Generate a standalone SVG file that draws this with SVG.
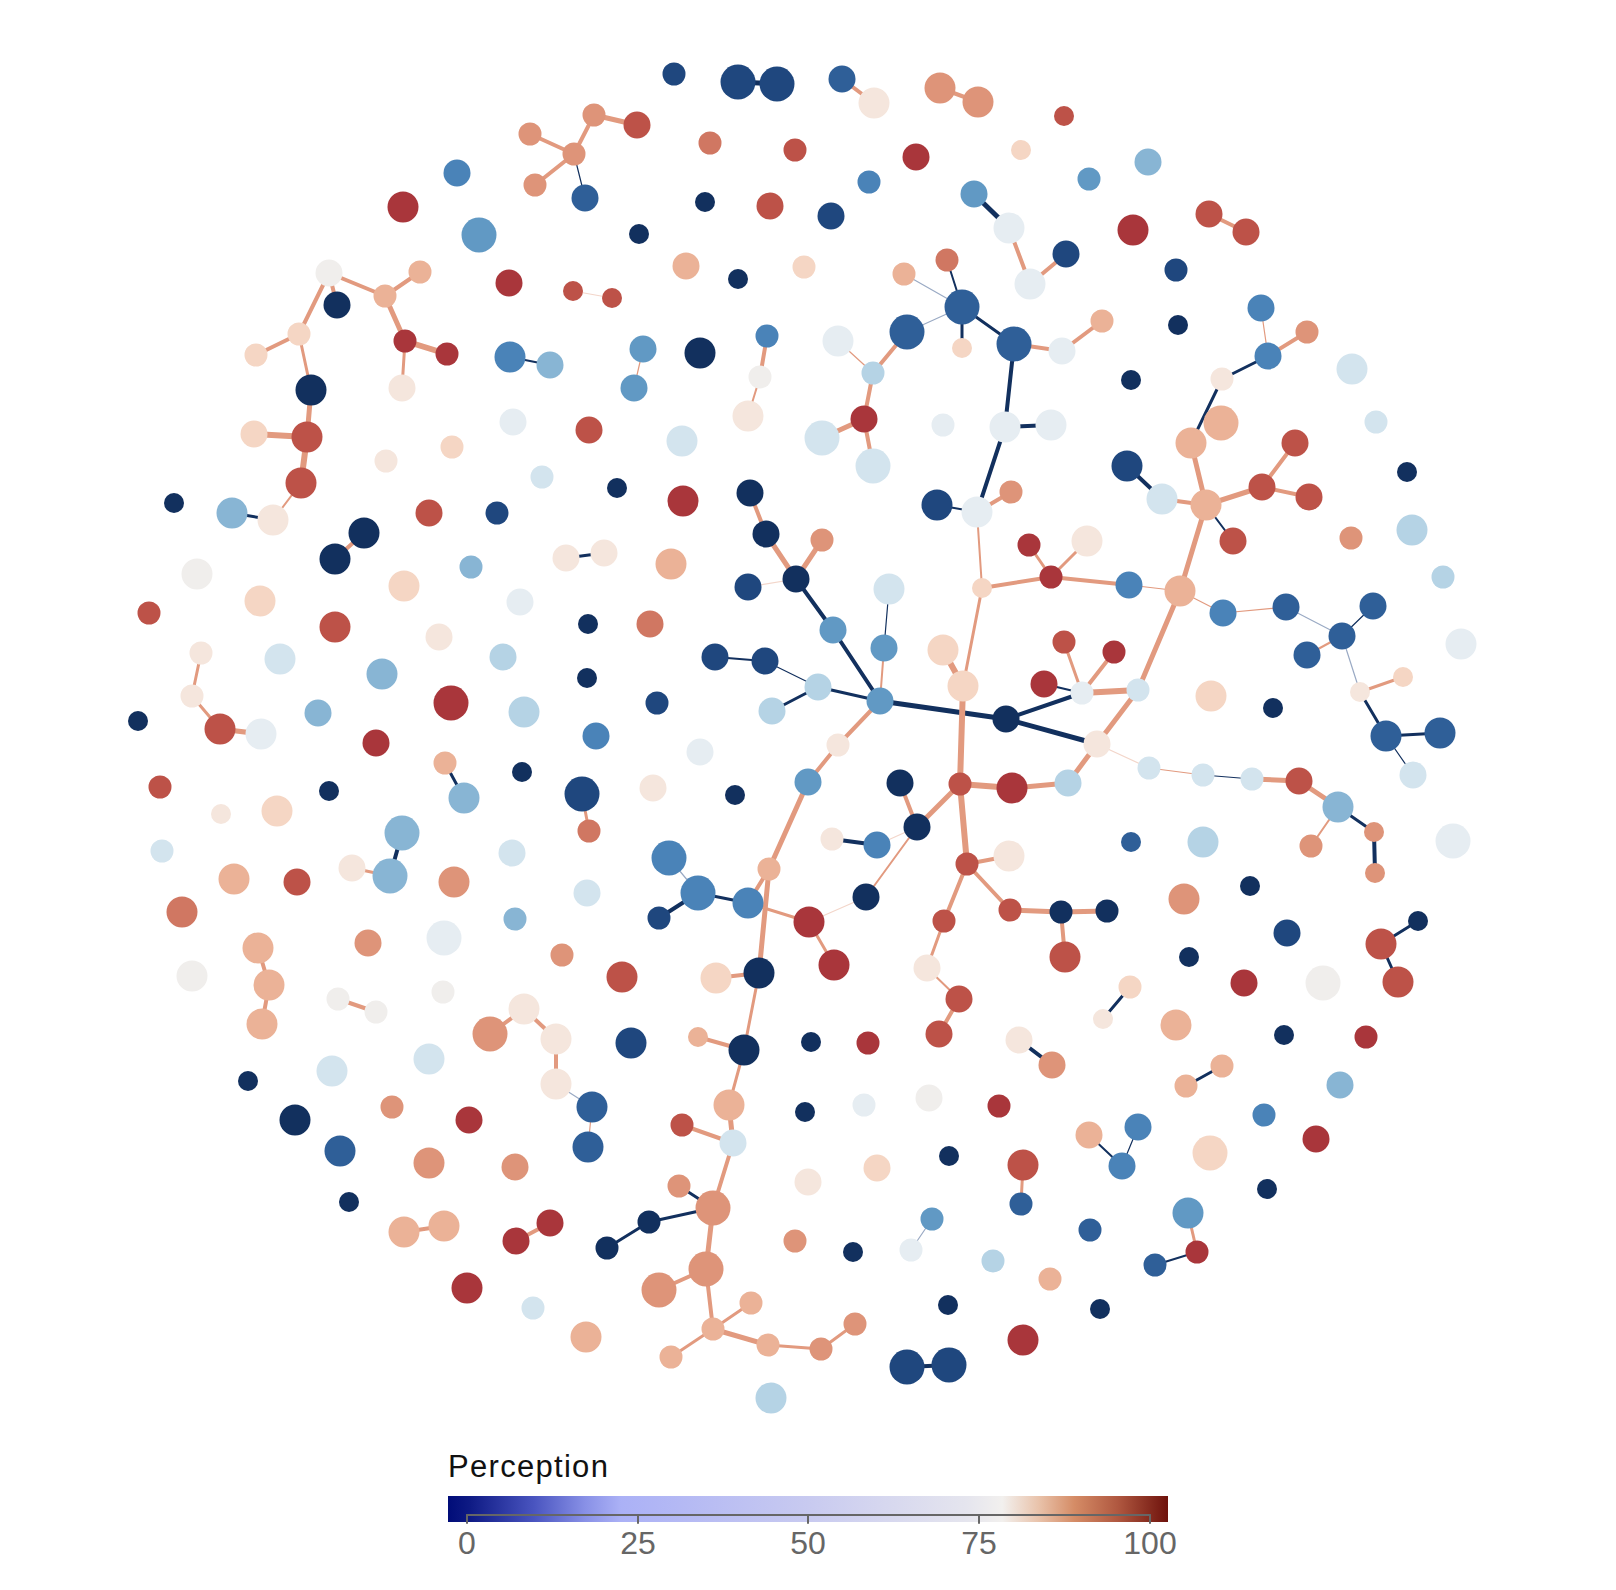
<svg xmlns="http://www.w3.org/2000/svg" width="1616" height="1590" viewBox="0 0 1616 1590">
<style>
.k0{fill:#12305e}.k1{fill:#1f477e}.k2{fill:#2f5f98}.k3{fill:#4a83b8}.k4{fill:#6199c4}.k5{fill:#88b5d4}.k6{fill:#b5d3e5}.k7{fill:#d3e4ee}.k8{fill:#e6edf2}.k9{fill:#f0eeec}.k10{fill:#f5e6dd}.k11{fill:#f5d6c4}.k12{fill:#ebb297}.k13{fill:#de9479}.k14{fill:#d07762}.k15{fill:#bd5248}.k16{fill:#a9363b}
line{stroke-linecap:round}
.s{stroke:#e29a7f}.n{stroke:#12305e}.g{stroke:#9aaac4}.f{stroke:#f3d6ca}
.w1{stroke-width:1.2}.w2{stroke-width:2}.w3{stroke-width:3}.w4{stroke-width:4}.w5{stroke-width:5}.w6{stroke-width:6}
.lab{font-family:"Liberation Sans",Arial,sans-serif;font-size:32px;fill:#666;text-anchor:middle}
.ttl{font-family:"Liberation Sans",Arial,sans-serif;font-size:31px;fill:#111;letter-spacing:1.3px}
</style>
<defs>
<linearGradient id="grad" x1="0" y1="0" x2="1" y2="0">
<stop offset="0" stop-color="#000c78"/>
<stop offset="0.03" stop-color="#0e1a84"/>
<stop offset="0.12" stop-color="#4a55c0"/>
<stop offset="0.19" stop-color="#8890e6"/>
<stop offset="0.24" stop-color="#abb1f6"/>
<stop offset="0.5" stop-color="#c8caf0"/>
<stop offset="0.72" stop-color="#e5e5ee"/>
<stop offset="0.77" stop-color="#f2f0ee"/>
<stop offset="0.82" stop-color="#e9c3ab"/>
<stop offset="0.87" stop-color="#d58c66"/>
<stop offset="0.93" stop-color="#b05840"/>
<stop offset="1" stop-color="#6e120c"/>
</linearGradient>
</defs>
<rect width="1616" height="1590" fill="#fff"/>
<g id="connectors">
<line class="s w4" x1="530" y1="134" x2="574" y2="154"/>
<line class="s w4" x1="535" y1="185" x2="574" y2="154"/>
<line class="n w1" x1="574" y1="154" x2="585" y2="198"/>
<line class="s w4" x1="574" y1="154" x2="594" y2="115"/>
<line class="s w5" x1="594" y1="115" x2="637" y2="125"/>
<line class="s w4" x1="329" y1="273" x2="385" y2="296"/>
<line class="s w4" x1="385" y1="296" x2="420" y2="272"/>
<line class="s w5" x1="385" y1="296" x2="405" y2="341"/>
<line class="s w6" x1="405" y1="341" x2="447" y2="354"/>
<line class="s w3" x1="405" y1="341" x2="402" y2="388"/>
<line class="s w4" x1="329" y1="273" x2="337" y2="305"/>
<line class="s w4" x1="329" y1="273" x2="299" y2="334"/>
<line class="s w4" x1="299" y1="334" x2="256" y2="355"/>
<line class="s w3" x1="299" y1="334" x2="311" y2="390"/>
<line class="s w5" x1="311" y1="390" x2="307" y2="437"/>
<line class="s w6" x1="254" y1="434" x2="307" y2="437"/>
<line class="s w6" x1="307" y1="437" x2="301" y2="483"/>
<line class="s w2" x1="301" y1="483" x2="273" y2="520"/>
<line class="n w3" x1="232" y1="513" x2="273" y2="520"/>
<line class="n w2" x1="510" y1="357" x2="550" y2="365"/>
<line class="f w1" x1="573" y1="291" x2="612" y2="298"/>
<line class="n w5" x1="738" y1="82" x2="777" y2="84"/>
<line class="s w4" x1="842" y1="79" x2="874" y2="103"/>
<line class="s w4" x1="940" y1="88" x2="978" y2="102"/>
<line class="n w5" x1="974" y1="194" x2="1009" y2="228"/>
<line class="s w4" x1="1009" y1="228" x2="1030" y2="284"/>
<line class="s w4" x1="1030" y1="284" x2="1066" y2="254"/>
<line class="n w2" x1="962" y1="307" x2="947" y2="260"/>
<line class="g w1" x1="962" y1="307" x2="904" y2="274"/>
<line class="n w3" x1="962" y1="307" x2="962" y2="348"/>
<line class="n w3" x1="962" y1="307" x2="1014" y2="344"/>
<line class="g w1" x1="907" y1="332" x2="962" y2="307"/>
<line class="s w4" x1="1014" y1="344" x2="1062" y2="351"/>
<line class="s w4" x1="1062" y1="351" x2="1102" y2="321"/>
<line class="n w4" x1="1014" y1="344" x2="1005" y2="427"/>
<line class="n w4" x1="1005" y1="427" x2="1051" y2="425"/>
<line class="n w4" x1="1005" y1="427" x2="977" y2="512"/>
<line class="n w2" x1="937" y1="505" x2="977" y2="512"/>
<line class="s w4" x1="977" y1="512" x2="1011" y2="492"/>
<line class="s w1" x1="643" y1="349" x2="634" y2="388"/>
<line class="s w4" x1="767" y1="336" x2="760" y2="377"/>
<line class="s w2" x1="760" y1="377" x2="748" y2="416"/>
<line class="s w1" x1="838" y1="341" x2="873" y2="373"/>
<line class="s w4" x1="873" y1="373" x2="907" y2="332"/>
<line class="s w4" x1="873" y1="373" x2="864" y2="419"/>
<line class="s w5" x1="864" y1="419" x2="822" y2="438"/>
<line class="s w4" x1="864" y1="419" x2="873" y2="466"/>
<line class="s w4" x1="750" y1="493" x2="766" y2="534"/>
<line class="s w4" x1="1209" y1="214" x2="1246" y2="232"/>
<line class="s w1" x1="1261" y1="308" x2="1268" y2="356"/>
<line class="s w4" x1="1307" y1="332" x2="1268" y2="356"/>
<line class="n w3" x1="1268" y1="356" x2="1222" y2="379"/>
<line class="n w3" x1="1222" y1="379" x2="1191" y2="443"/>
<line class="n w4" x1="1127" y1="466" x2="1162" y2="499"/>
<line class="s w4" x1="1162" y1="499" x2="1206" y2="505"/>
<line class="s w5" x1="1191" y1="443" x2="1206" y2="505"/>
<line class="s w5" x1="1206" y1="505" x2="1262" y2="487"/>
<line class="s w4" x1="1262" y1="487" x2="1295" y2="443"/>
<line class="s w4" x1="1262" y1="487" x2="1309" y2="497"/>
<line class="n w2" x1="1206" y1="505" x2="1233" y2="541"/>
<line class="s w4" x1="364" y1="533" x2="335" y2="559"/>
<line class="n w3" x1="566" y1="558" x2="604" y2="553"/>
<line class="s w3" x1="201" y1="653" x2="192" y2="696"/>
<line class="s w3" x1="192" y1="696" x2="220" y2="729"/>
<line class="s w5" x1="220" y1="729" x2="261" y2="734"/>
<line class="n w3" x1="445" y1="763" x2="464" y2="798"/>
<line class="n w4" x1="402" y1="833" x2="390" y2="876"/>
<line class="s w3" x1="352" y1="868" x2="390" y2="876"/>
<line class="s w3" x1="582" y1="794" x2="589" y2="831"/>
<line class="s w4" x1="258" y1="948" x2="269" y2="985"/>
<line class="s w5" x1="766" y1="534" x2="796" y2="579"/>
<line class="s w5" x1="796" y1="579" x2="822" y2="540"/>
<line class="f w1" x1="748" y1="587" x2="796" y2="579"/>
<line class="n w4" x1="796" y1="579" x2="833" y2="630"/>
<line class="n w4" x1="833" y1="630" x2="880" y2="701"/>
<line class="n w2" x1="715" y1="657" x2="765" y2="661"/>
<line class="n w1" x1="765" y1="661" x2="818" y2="687"/>
<line class="n w3" x1="818" y1="687" x2="772" y2="711"/>
<line class="n w3" x1="818" y1="687" x2="880" y2="701"/>
<line class="n w1" x1="889" y1="589" x2="884" y2="648"/>
<line class="s w2" x1="884" y1="648" x2="880" y2="701"/>
<line class="n w5" x1="880" y1="701" x2="1006" y2="719"/>
<line class="s w4" x1="880" y1="701" x2="838" y2="745"/>
<line class="s w4" x1="838" y1="745" x2="808" y2="782"/>
<line class="s w5" x1="808" y1="782" x2="769" y2="869"/>
<line class="s w2" x1="977" y1="512" x2="982" y2="588"/>
<line class="s w3" x1="1029" y1="545" x2="1051" y2="577"/>
<line class="s w4" x1="982" y1="588" x2="1051" y2="577"/>
<line class="s w6" x1="943" y1="650" x2="963" y2="686"/>
<line class="s w3" x1="982" y1="588" x2="963" y2="686"/>
<line class="n w2" x1="1044" y1="684" x2="1082" y2="693"/>
<line class="s w6" x1="963" y1="686" x2="960" y2="784"/>
<line class="s w6" x1="960" y1="784" x2="1012" y2="788"/>
<line class="s w5" x1="1012" y1="788" x2="1068" y2="783"/>
<line class="s w4" x1="900" y1="783" x2="917" y2="827"/>
<line class="s w5" x1="917" y1="827" x2="960" y2="784"/>
<line class="n w4" x1="832" y1="839" x2="877" y2="845"/>
<line class="f w1" x1="877" y1="845" x2="917" y2="827"/>
<line class="s w2" x1="866" y1="897" x2="917" y2="827"/>
<line class="s w6" x1="960" y1="784" x2="967" y2="864"/>
<line class="s w4" x1="967" y1="864" x2="1009" y2="856"/>
<line class="s w4" x1="967" y1="864" x2="1010" y2="910"/>
<line class="s w5" x1="1010" y1="910" x2="1061" y2="912"/>
<line class="s w4" x1="967" y1="864" x2="944" y2="921"/>
<line class="s w3" x1="944" y1="921" x2="927" y2="968"/>
<line class="g w1" x1="669" y1="858" x2="698" y2="893"/>
<line class="n w4" x1="698" y1="893" x2="659" y2="918"/>
<line class="n w3" x1="698" y1="893" x2="748" y2="903"/>
<line class="s w4" x1="769" y1="869" x2="748" y2="903"/>
<line class="s w5" x1="769" y1="869" x2="759" y2="973"/>
<line class="s w3" x1="748" y1="903" x2="809" y2="922"/>
<line class="s w3" x1="809" y1="922" x2="834" y2="965"/>
<line class="f w1" x1="809" y1="922" x2="866" y2="897"/>
<line class="s w4" x1="716" y1="978" x2="759" y2="973"/>
<line class="s w3" x1="1087" y1="541" x2="1051" y2="577"/>
<line class="s w4" x1="1051" y1="577" x2="1129" y2="585"/>
<line class="s w1" x1="1129" y1="585" x2="1180" y2="591"/>
<line class="s w5" x1="1206" y1="505" x2="1180" y2="591"/>
<line class="s w1" x1="1180" y1="591" x2="1223" y2="613"/>
<line class="s w1" x1="1223" y1="613" x2="1286" y2="607"/>
<line class="g w1" x1="1286" y1="607" x2="1342" y2="636"/>
<line class="n w1" x1="1342" y1="636" x2="1373" y2="606"/>
<line class="s w2" x1="1342" y1="636" x2="1307" y2="655"/>
<line class="g w1" x1="1342" y1="636" x2="1360" y2="692"/>
<line class="s w3" x1="1360" y1="692" x2="1403" y2="677"/>
<line class="n w3" x1="1360" y1="692" x2="1386" y2="736"/>
<line class="n w3" x1="1386" y1="736" x2="1440" y2="733"/>
<line class="n w1" x1="1386" y1="736" x2="1413" y2="775"/>
<line class="s w3" x1="1064" y1="642" x2="1082" y2="693"/>
<line class="s w4" x1="1114" y1="652" x2="1082" y2="693"/>
<line class="s w6" x1="1082" y1="693" x2="1138" y2="690"/>
<line class="s w5" x1="1138" y1="690" x2="1180" y2="591"/>
<line class="n w4" x1="1006" y1="719" x2="1082" y2="693"/>
<line class="n w5" x1="1006" y1="719" x2="1097" y2="744"/>
<line class="s w5" x1="1097" y1="744" x2="1138" y2="690"/>
<line class="s w5" x1="1097" y1="744" x2="1068" y2="783"/>
<line class="f w1" x1="1097" y1="744" x2="1149" y2="768"/>
<line class="s w1" x1="1149" y1="768" x2="1203" y2="775"/>
<line class="n w1" x1="1203" y1="775" x2="1252" y2="779"/>
<line class="s w5" x1="1252" y1="779" x2="1299" y2="781"/>
<line class="s w5" x1="1299" y1="781" x2="1338" y2="807"/>
<line class="n w3" x1="1338" y1="807" x2="1374" y2="832"/>
<line class="n w4" x1="1374" y1="832" x2="1375" y2="873"/>
<line class="s w2" x1="1338" y1="807" x2="1311" y2="846"/>
<line class="s w5" x1="1061" y1="912" x2="1107" y2="911"/>
<line class="s w4" x1="1061" y1="912" x2="1065" y2="957"/>
<line class="n w3" x1="1418" y1="921" x2="1381" y2="944"/>
<line class="n w3" x1="1381" y1="944" x2="1398" y2="982"/>
<line class="s w4" x1="269" y1="985" x2="262" y2="1024"/>
<line class="s w4" x1="338" y1="999" x2="376" y2="1012"/>
<line class="s w4" x1="524" y1="1009" x2="490" y2="1034"/>
<line class="s w4" x1="524" y1="1009" x2="556" y2="1039"/>
<line class="s w4" x1="556" y1="1039" x2="556" y2="1084"/>
<line class="g w1" x1="556" y1="1084" x2="592" y2="1107"/>
<line class="s w1" x1="592" y1="1107" x2="588" y2="1147"/>
<line class="s w4" x1="404" y1="1232" x2="444" y2="1226"/>
<line class="s w4" x1="516" y1="1241" x2="550" y2="1223"/>
<line class="s w2" x1="927" y1="968" x2="959" y2="999"/>
<line class="s w4" x1="959" y1="999" x2="939" y2="1034"/>
<line class="n w4" x1="1019" y1="1040" x2="1052" y2="1065"/>
<line class="s w4" x1="698" y1="1037" x2="744" y2="1050"/>
<line class="s w3" x1="759" y1="973" x2="744" y2="1050"/>
<line class="s w3" x1="744" y1="1050" x2="729" y2="1105"/>
<line class="s w5" x1="729" y1="1105" x2="733" y2="1143"/>
<line class="s w4" x1="682" y1="1125" x2="733" y2="1143"/>
<line class="s w4" x1="733" y1="1143" x2="713" y2="1208"/>
<line class="n w3" x1="679" y1="1186" x2="713" y2="1208"/>
<line class="n w3" x1="713" y1="1208" x2="649" y2="1222"/>
<line class="n w3" x1="649" y1="1222" x2="607" y2="1248"/>
<line class="s w5" x1="713" y1="1208" x2="706" y2="1269"/>
<line class="s w4" x1="706" y1="1269" x2="659" y2="1290"/>
<line class="s w4" x1="706" y1="1269" x2="713" y2="1329"/>
<line class="s w3" x1="713" y1="1329" x2="751" y2="1303"/>
<line class="s w3" x1="713" y1="1329" x2="671" y2="1357"/>
<line class="s w5" x1="713" y1="1329" x2="768" y2="1345"/>
<line class="s w3" x1="768" y1="1345" x2="821" y2="1349"/>
<line class="s w3" x1="821" y1="1349" x2="855" y2="1324"/>
<line class="s w3" x1="1023" y1="1165" x2="1021" y2="1204"/>
<line class="g w1" x1="932" y1="1219" x2="911" y2="1250"/>
<line class="n w4" x1="907" y1="1367" x2="949" y2="1365"/>
<line class="n w3" x1="1130" y1="987" x2="1103" y2="1019"/>
<line class="n w3" x1="1186" y1="1086" x2="1222" y2="1066"/>
<line class="n w2" x1="1089" y1="1135" x2="1122" y2="1166"/>
<line class="n w1" x1="1138" y1="1127" x2="1122" y2="1166"/>
<line class="s w3" x1="1188" y1="1213" x2="1197" y2="1252"/>
<line class="n w2" x1="1197" y1="1252" x2="1155" y2="1265"/>
</g>
<g id="nodes">
<g id="n1"><circle class="k13" cx="530" cy="134" r="11.5"/></g>
<g id="n2"><circle class="k13" cx="574" cy="154" r="11.5"/></g>
<g id="n3"><circle class="k13" cx="535" cy="185" r="11.5"/></g>
<g id="n4"><circle class="k2" cx="585" cy="198" r="13.5"/></g>
<g id="n5"><circle class="k3" cx="457" cy="173" r="13.5"/></g>
<g id="n6"><circle class="k16" cx="403" cy="207" r="15.5"/></g>
<g id="n7"><circle class="k4" cx="479" cy="235" r="17.5"/></g>
<g id="n8"><circle class="k16" cx="509" cy="283" r="13.5"/></g>
<g id="n9"><circle class="k15" cx="573" cy="291" r="10"/></g>
<g id="n10"><circle class="k9" cx="329" cy="273" r="13.5"/></g>
<g id="n11"><circle class="k12" cx="385" cy="296" r="11.5"/></g>
<g id="n12"><circle class="k12" cx="420" cy="272" r="11.5"/></g>
<g id="n13"><circle class="k0" cx="337" cy="305" r="13.5"/></g>
<g id="n14"><circle class="k11" cx="299" cy="334" r="11.5"/></g>
<g id="n15"><circle class="k11" cx="256" cy="355" r="11.5"/></g>
<g id="n16"><circle class="k16" cx="405" cy="341" r="11.5"/></g>
<g id="n17"><circle class="k16" cx="447" cy="354" r="11.5"/></g>
<g id="n18"><circle class="k10" cx="402" cy="388" r="13.5"/></g>
<g id="n19"><circle class="k0" cx="311" cy="390" r="15.5"/></g>
<g id="n20"><circle class="k11" cx="254" cy="434" r="13.5"/></g>
<g id="n21"><circle class="k15" cx="307" cy="437" r="15.5"/></g>
<g id="n22"><circle class="k15" cx="301" cy="483" r="15.5"/></g>
<g id="n23"><circle class="k0" cx="174" cy="503" r="10"/></g>
<g id="n24"><circle class="k5" cx="232" cy="513" r="15.5"/></g>
<g id="n25"><circle class="k10" cx="273" cy="520" r="15.5"/></g>
<g id="n26"><circle class="k15" cx="429" cy="513" r="13.5"/></g>
<g id="n27"><circle class="k1" cx="497" cy="513" r="11.5"/></g>
<g id="n28"><circle class="k3" cx="510" cy="357" r="15.5"/></g>
<g id="n29"><circle class="k5" cx="550" cy="365" r="13.5"/></g>
<g id="n30"><circle class="k8" cx="513" cy="422" r="13.5"/></g>
<g id="n31"><circle class="k11" cx="452" cy="447" r="11.5"/></g>
<g id="n32"><circle class="k10" cx="386" cy="461" r="11.5"/></g>
<g id="n33"><circle class="k7" cx="542" cy="477" r="11.5"/></g>
<g id="n34"><circle class="k15" cx="589" cy="430" r="13.5"/></g>
<g id="n35"><circle class="k1" cx="674" cy="74" r="11.5"/></g>
<g id="n36"><circle class="k1" cx="738" cy="82" r="17.5"/></g>
<g id="n37"><circle class="k1" cx="777" cy="84" r="17.5"/></g>
<g id="n38"><circle class="k2" cx="842" cy="79" r="13.5"/></g>
<g id="n39"><circle class="k10" cx="874" cy="103" r="15.5"/></g>
<g id="n40"><circle class="k13" cx="940" cy="88" r="15.5"/></g>
<g id="n41"><circle class="k13" cx="978" cy="102" r="15.5"/></g>
<g id="n42"><circle class="k13" cx="594" cy="115" r="11.5"/></g>
<g id="n43"><circle class="k15" cx="637" cy="125" r="13.5"/></g>
<g id="n44"><circle class="k14" cx="710" cy="143" r="11.5"/></g>
<g id="n45"><circle class="k15" cx="795" cy="150" r="11.5"/></g>
<g id="n46"><circle class="k16" cx="916" cy="157" r="13.5"/></g>
<g id="n47"><circle class="k11" cx="1021" cy="150" r="10"/></g>
<g id="n48"><circle class="k0" cx="705" cy="202" r="10"/></g>
<g id="n49"><circle class="k15" cx="770" cy="206" r="13.5"/></g>
<g id="n50"><circle class="k3" cx="869" cy="182" r="11.5"/></g>
<g id="n51"><circle class="k1" cx="831" cy="216" r="13.5"/></g>
<g id="n52"><circle class="k4" cx="974" cy="194" r="13.5"/></g>
<g id="n53"><circle class="k8" cx="1009" cy="228" r="15.5"/></g>
<g id="n54"><circle class="k0" cx="639" cy="234" r="10"/></g>
<g id="n55"><circle class="k12" cx="686" cy="266" r="13.5"/></g>
<g id="n56"><circle class="k0" cx="738" cy="279" r="10"/></g>
<g id="n57"><circle class="k11" cx="804" cy="267" r="11.5"/></g>
<g id="n58"><circle class="k12" cx="904" cy="274" r="11.5"/></g>
<g id="n59"><circle class="k14" cx="947" cy="260" r="11.5"/></g>
<g id="n60"><circle class="k8" cx="1030" cy="284" r="15.5"/></g>
<g id="n61"><circle class="k2" cx="962" cy="307" r="17.5"/></g>
<g id="n62"><circle class="k11" cx="962" cy="348" r="10"/></g>
<g id="n63"><circle class="k2" cx="1014" cy="344" r="17.5"/></g>
<g id="n64"><circle class="k2" cx="907" cy="332" r="17.5"/></g>
<g id="n65"><circle class="k15" cx="612" cy="298" r="10"/></g>
<g id="n66"><circle class="k4" cx="643" cy="349" r="13.5"/></g>
<g id="n67"><circle class="k4" cx="634" cy="388" r="13.5"/></g>
<g id="n68"><circle class="k0" cx="700" cy="353" r="15.5"/></g>
<g id="n69"><circle class="k3" cx="767" cy="336" r="11.5"/></g>
<g id="n70"><circle class="k9" cx="760" cy="377" r="11.5"/></g>
<g id="n71"><circle class="k10" cx="748" cy="416" r="15.5"/></g>
<g id="n72"><circle class="k8" cx="838" cy="341" r="15.5"/></g>
<g id="n73"><circle class="k6" cx="873" cy="373" r="11.5"/></g>
<g id="n74"><circle class="k16" cx="864" cy="419" r="13.5"/></g>
<g id="n75"><circle class="k7" cx="822" cy="438" r="17.5"/></g>
<g id="n76"><circle class="k7" cx="873" cy="466" r="17.5"/></g>
<g id="n77"><circle class="k8" cx="943" cy="425" r="11.5"/></g>
<g id="n78"><circle class="k8" cx="1005" cy="427" r="15.5"/></g>
<g id="n79"><circle class="k8" cx="977" cy="512" r="15.5"/></g>
<g id="n80"><circle class="k1" cx="937" cy="505" r="15.5"/></g>
<g id="n81"><circle class="k13" cx="1011" cy="492" r="11.5"/></g>
<g id="n82"><circle class="k7" cx="682" cy="441" r="15.5"/></g>
<g id="n83"><circle class="k0" cx="617" cy="488" r="10"/></g>
<g id="n84"><circle class="k16" cx="683" cy="501" r="15.5"/></g>
<g id="n85"><circle class="k0" cx="750" cy="493" r="13.5"/></g>
<g id="n86"><circle class="k15" cx="1064" cy="116" r="10"/></g>
<g id="n87"><circle class="k4" cx="1089" cy="179" r="11.5"/></g>
<g id="n88"><circle class="k5" cx="1148" cy="162" r="13.5"/></g>
<g id="n89"><circle class="k16" cx="1133" cy="230" r="15.5"/></g>
<g id="n90"><circle class="k15" cx="1209" cy="214" r="13.5"/></g>
<g id="n91"><circle class="k15" cx="1246" cy="232" r="13.5"/></g>
<g id="n92"><circle class="k1" cx="1066" cy="254" r="13.5"/></g>
<g id="n93"><circle class="k1" cx="1176" cy="270" r="11.5"/></g>
<g id="n94"><circle class="k12" cx="1102" cy="321" r="11.5"/></g>
<g id="n95"><circle class="k8" cx="1062" cy="351" r="13.5"/></g>
<g id="n96"><circle class="k0" cx="1178" cy="325" r="10"/></g>
<g id="n97"><circle class="k3" cx="1261" cy="308" r="13.5"/></g>
<g id="n98"><circle class="k13" cx="1307" cy="332" r="11.5"/></g>
<g id="n99"><circle class="k3" cx="1268" cy="356" r="13.5"/></g>
<g id="n100"><circle class="k10" cx="1222" cy="379" r="11.5"/></g>
<g id="n101"><circle class="k12" cx="1191" cy="443" r="15.5"/></g>
<g id="n102"><circle class="k12" cx="1221" cy="423" r="17.5"/></g>
<g id="n103"><circle class="k7" cx="1352" cy="369" r="15.5"/></g>
<g id="n104"><circle class="k7" cx="1376" cy="422" r="11.5"/></g>
<g id="n105"><circle class="k0" cx="1131" cy="380" r="10"/></g>
<g id="n106"><circle class="k8" cx="1051" cy="425" r="15.5"/></g>
<g id="n107"><circle class="k0" cx="1407" cy="472" r="10"/></g>
<g id="n108"><circle class="k1" cx="1127" cy="466" r="15.5"/></g>
<g id="n109"><circle class="k7" cx="1162" cy="499" r="15.5"/></g>
<g id="n110"><circle class="k12" cx="1206" cy="505" r="15.5"/></g>
<g id="n111"><circle class="k15" cx="1262" cy="487" r="13.5"/></g>
<g id="n112"><circle class="k15" cx="1295" cy="443" r="13.5"/></g>
<g id="n113"><circle class="k15" cx="1309" cy="497" r="13.5"/></g>
<g id="n114"><circle class="k6" cx="1412" cy="530" r="15.5"/></g>
<g id="n115"><circle class="k0" cx="364" cy="533" r="15.5"/></g>
<g id="n116"><circle class="k0" cx="335" cy="559" r="15.5"/></g>
<g id="n117"><circle class="k10" cx="566" cy="558" r="13.5"/></g>
<g id="n118"><circle class="k9" cx="197" cy="574" r="15.5"/></g>
<g id="n119"><circle class="k11" cx="260" cy="601" r="15.5"/></g>
<g id="n120"><circle class="k15" cx="149" cy="613" r="11.5"/></g>
<g id="n121"><circle class="k15" cx="335" cy="627" r="15.5"/></g>
<g id="n122"><circle class="k11" cx="404" cy="586" r="15.5"/></g>
<g id="n123"><circle class="k5" cx="471" cy="567" r="11.5"/></g>
<g id="n124"><circle class="k8" cx="520" cy="602" r="13.5"/></g>
<g id="n125"><circle class="k10" cx="439" cy="637" r="13.5"/></g>
<g id="n126"><circle class="k10" cx="201" cy="653" r="11.5"/></g>
<g id="n127"><circle class="k7" cx="280" cy="659" r="15.5"/></g>
<g id="n128"><circle class="k5" cx="382" cy="674" r="15.5"/></g>
<g id="n129"><circle class="k6" cx="503" cy="657" r="13.5"/></g>
<g id="n130"><circle class="k10" cx="192" cy="696" r="11.5"/></g>
<g id="n131"><circle class="k0" cx="138" cy="721" r="10"/></g>
<g id="n132"><circle class="k15" cx="220" cy="729" r="15.5"/></g>
<g id="n133"><circle class="k8" cx="261" cy="734" r="15.5"/></g>
<g id="n134"><circle class="k5" cx="318" cy="713" r="13.5"/></g>
<g id="n135"><circle class="k16" cx="451" cy="703" r="17.5"/></g>
<g id="n136"><circle class="k6" cx="524" cy="712" r="15.5"/></g>
<g id="n137"><circle class="k16" cx="376" cy="743" r="13.5"/></g>
<g id="n138"><circle class="k12" cx="445" cy="763" r="11.5"/></g>
<g id="n139"><circle class="k5" cx="464" cy="798" r="15.5"/></g>
<g id="n140"><circle class="k15" cx="160" cy="787" r="11.5"/></g>
<g id="n141"><circle class="k0" cx="329" cy="791" r="10"/></g>
<g id="n142"><circle class="k0" cx="522" cy="772" r="10"/></g>
<g id="n143"><circle class="k1" cx="582" cy="794" r="17.5"/></g>
<g id="n144"><circle class="k14" cx="589" cy="831" r="11.5"/></g>
<g id="n145"><circle class="k10" cx="221" cy="814" r="10"/></g>
<g id="n146"><circle class="k11" cx="277" cy="811" r="15.5"/></g>
<g id="n147"><circle class="k7" cx="162" cy="851" r="11.5"/></g>
<g id="n148"><circle class="k5" cx="402" cy="833" r="17.5"/></g>
<g id="n149"><circle class="k5" cx="390" cy="876" r="17.5"/></g>
<g id="n150"><circle class="k10" cx="352" cy="868" r="13.5"/></g>
<g id="n151"><circle class="k7" cx="512" cy="853" r="13.5"/></g>
<g id="n152"><circle class="k13" cx="454" cy="882" r="15.5"/></g>
<g id="n153"><circle class="k12" cx="234" cy="879" r="15.5"/></g>
<g id="n154"><circle class="k15" cx="297" cy="882" r="13.5"/></g>
<g id="n155"><circle class="k14" cx="182" cy="912" r="15.5"/></g>
<g id="n156"><circle class="k7" cx="587" cy="893" r="13.5"/></g>
<g id="n157"><circle class="k12" cx="258" cy="948" r="15.5"/></g>
<g id="n158"><circle class="k13" cx="368" cy="943" r="13.5"/></g>
<g id="n159"><circle class="k8" cx="444" cy="938" r="17.5"/></g>
<g id="n160"><circle class="k5" cx="515" cy="919" r="11.5"/></g>
<g id="n161"><circle class="k13" cx="562" cy="955" r="11.5"/></g>
<g id="n162"><circle class="k0" cx="766" cy="534" r="13.5"/></g>
<g id="n163"><circle class="k0" cx="796" cy="579" r="13.5"/></g>
<g id="n164"><circle class="k13" cx="822" cy="540" r="11.5"/></g>
<g id="n165"><circle class="k1" cx="748" cy="587" r="13.5"/></g>
<g id="n166"><circle class="k10" cx="604" cy="553" r="13.5"/></g>
<g id="n167"><circle class="k12" cx="671" cy="564" r="15.5"/></g>
<g id="n168"><circle class="k14" cx="650" cy="624" r="13.5"/></g>
<g id="n169"><circle class="k0" cx="588" cy="624" r="10"/></g>
<g id="n170"><circle class="k0" cx="587" cy="678" r="10"/></g>
<g id="n171"><circle class="k1" cx="657" cy="703" r="11.5"/></g>
<g id="n172"><circle class="k3" cx="596" cy="736" r="13.5"/></g>
<g id="n173"><circle class="k8" cx="700" cy="752" r="13.5"/></g>
<g id="n174"><circle class="k1" cx="715" cy="657" r="13.5"/></g>
<g id="n175"><circle class="k1" cx="765" cy="661" r="13.5"/></g>
<g id="n176"><circle class="k6" cx="818" cy="687" r="13.5"/></g>
<g id="n177"><circle class="k6" cx="772" cy="711" r="13.5"/></g>
<g id="n178"><circle class="k4" cx="833" cy="630" r="13.5"/></g>
<g id="n179"><circle class="k4" cx="880" cy="701" r="13.5"/></g>
<g id="n180"><circle class="k7" cx="889" cy="589" r="15.5"/></g>
<g id="n181"><circle class="k4" cx="884" cy="648" r="13.5"/></g>
<g id="n182"><circle class="k0" cx="1006" cy="719" r="13.5"/></g>
<g id="n183"><circle class="k10" cx="838" cy="745" r="11.5"/></g>
<g id="n184"><circle class="k4" cx="808" cy="782" r="13.5"/></g>
<g id="n185"><circle class="k12" cx="769" cy="869" r="11.5"/></g>
<g id="n186"><circle class="k11" cx="982" cy="588" r="10"/></g>
<g id="n187"><circle class="k16" cx="1029" cy="545" r="11.5"/></g>
<g id="n188"><circle class="k16" cx="1051" cy="577" r="11.5"/></g>
<g id="n189"><circle class="k11" cx="943" cy="650" r="15.5"/></g>
<g id="n190"><circle class="k11" cx="963" cy="686" r="15.5"/></g>
<g id="n191"><circle class="k16" cx="1044" cy="684" r="13.5"/></g>
<g id="n192"><circle class="k8" cx="1082" cy="693" r="11.5"/></g>
<g id="n193"><circle class="k15" cx="960" cy="784" r="11.5"/></g>
<g id="n194"><circle class="k16" cx="1012" cy="788" r="15.5"/></g>
<g id="n195"><circle class="k6" cx="1068" cy="783" r="13.5"/></g>
<g id="n196"><circle class="k0" cx="900" cy="783" r="13.5"/></g>
<g id="n197"><circle class="k0" cx="917" cy="827" r="13.5"/></g>
<g id="n198"><circle class="k10" cx="832" cy="839" r="11.5"/></g>
<g id="n199"><circle class="k3" cx="877" cy="845" r="13.5"/></g>
<g id="n200"><circle class="k0" cx="866" cy="897" r="13.5"/></g>
<g id="n201"><circle class="k15" cx="967" cy="864" r="11.5"/></g>
<g id="n202"><circle class="k10" cx="1009" cy="856" r="15.5"/></g>
<g id="n203"><circle class="k15" cx="1010" cy="910" r="11.5"/></g>
<g id="n204"><circle class="k15" cx="944" cy="921" r="11.5"/></g>
<g id="n205"><circle class="k10" cx="927" cy="968" r="13.5"/></g>
<g id="n206"><circle class="k3" cx="669" cy="858" r="17.5"/></g>
<g id="n207"><circle class="k3" cx="698" cy="893" r="17.5"/></g>
<g id="n208"><circle class="k1" cx="659" cy="918" r="11.5"/></g>
<g id="n209"><circle class="k3" cx="748" cy="903" r="15.5"/></g>
<g id="n210"><circle class="k0" cx="759" cy="973" r="15.5"/></g>
<g id="n211"><circle class="k16" cx="809" cy="922" r="15.5"/></g>
<g id="n212"><circle class="k16" cx="834" cy="965" r="15.5"/></g>
<g id="n213"><circle class="k15" cx="622" cy="977" r="15.5"/></g>
<g id="n214"><circle class="k11" cx="716" cy="978" r="15.5"/></g>
<g id="n215"><circle class="k10" cx="653" cy="788" r="13.5"/></g>
<g id="n216"><circle class="k0" cx="735" cy="795" r="10"/></g>
<g id="n217"><circle class="k15" cx="1233" cy="541" r="13.5"/></g>
<g id="n218"><circle class="k10" cx="1087" cy="541" r="15.5"/></g>
<g id="n219"><circle class="k3" cx="1129" cy="585" r="13.5"/></g>
<g id="n220"><circle class="k12" cx="1180" cy="591" r="15.5"/></g>
<g id="n221"><circle class="k3" cx="1223" cy="613" r="13.5"/></g>
<g id="n222"><circle class="k2" cx="1286" cy="607" r="13.5"/></g>
<g id="n223"><circle class="k2" cx="1342" cy="636" r="13.5"/></g>
<g id="n224"><circle class="k2" cx="1373" cy="606" r="13.5"/></g>
<g id="n225"><circle class="k2" cx="1307" cy="655" r="13.5"/></g>
<g id="n226"><circle class="k13" cx="1351" cy="538" r="11.5"/></g>
<g id="n227"><circle class="k6" cx="1443" cy="577" r="11.5"/></g>
<g id="n228"><circle class="k8" cx="1461" cy="644" r="15.5"/></g>
<g id="n229"><circle class="k10" cx="1360" cy="692" r="10"/></g>
<g id="n230"><circle class="k11" cx="1403" cy="677" r="10"/></g>
<g id="n231"><circle class="k2" cx="1386" cy="736" r="15.5"/></g>
<g id="n232"><circle class="k2" cx="1440" cy="733" r="15.5"/></g>
<g id="n233"><circle class="k7" cx="1413" cy="775" r="13.5"/></g>
<g id="n234"><circle class="k15" cx="1064" cy="642" r="11.5"/></g>
<g id="n235"><circle class="k16" cx="1114" cy="652" r="11.5"/></g>
<g id="n236"><circle class="k7" cx="1138" cy="690" r="11.5"/></g>
<g id="n237"><circle class="k10" cx="1097" cy="744" r="13.5"/></g>
<g id="n238"><circle class="k11" cx="1211" cy="696" r="15.5"/></g>
<g id="n239"><circle class="k0" cx="1273" cy="708" r="10"/></g>
<g id="n240"><circle class="k7" cx="1149" cy="768" r="11.5"/></g>
<g id="n241"><circle class="k7" cx="1203" cy="775" r="11.5"/></g>
<g id="n242"><circle class="k7" cx="1252" cy="779" r="11.5"/></g>
<g id="n243"><circle class="k15" cx="1299" cy="781" r="13.5"/></g>
<g id="n244"><circle class="k5" cx="1338" cy="807" r="15.5"/></g>
<g id="n245"><circle class="k13" cx="1374" cy="832" r="10"/></g>
<g id="n246"><circle class="k13" cx="1375" cy="873" r="10"/></g>
<g id="n247"><circle class="k13" cx="1311" cy="846" r="11.5"/></g>
<g id="n248"><circle class="k8" cx="1453" cy="841" r="17.5"/></g>
<g id="n249"><circle class="k2" cx="1131" cy="842" r="10"/></g>
<g id="n250"><circle class="k6" cx="1203" cy="842" r="15.5"/></g>
<g id="n251"><circle class="k0" cx="1250" cy="886" r="10"/></g>
<g id="n252"><circle class="k13" cx="1184" cy="899" r="15.5"/></g>
<g id="n253"><circle class="k0" cx="1061" cy="912" r="11.5"/></g>
<g id="n254"><circle class="k0" cx="1107" cy="911" r="11.5"/></g>
<g id="n255"><circle class="k15" cx="1065" cy="957" r="15.5"/></g>
<g id="n256"><circle class="k0" cx="1189" cy="957" r="10"/></g>
<g id="n257"><circle class="k1" cx="1287" cy="933" r="13.5"/></g>
<g id="n258"><circle class="k0" cx="1418" cy="921" r="10"/></g>
<g id="n259"><circle class="k15" cx="1381" cy="944" r="15.5"/></g>
<g id="n260"><circle class="k9" cx="192" cy="976" r="15.5"/></g>
<g id="n261"><circle class="k12" cx="269" cy="985" r="15.5"/></g>
<g id="n262"><circle class="k12" cx="262" cy="1024" r="15.5"/></g>
<g id="n263"><circle class="k9" cx="338" cy="999" r="11.5"/></g>
<g id="n264"><circle class="k9" cx="376" cy="1012" r="11.5"/></g>
<g id="n265"><circle class="k9" cx="443" cy="992" r="11.5"/></g>
<g id="n266"><circle class="k10" cx="524" cy="1009" r="15.5"/></g>
<g id="n267"><circle class="k13" cx="490" cy="1034" r="17.5"/></g>
<g id="n268"><circle class="k10" cx="556" cy="1039" r="15.5"/></g>
<g id="n269"><circle class="k10" cx="556" cy="1084" r="15.5"/></g>
<g id="n270"><circle class="k2" cx="592" cy="1107" r="15.5"/></g>
<g id="n271"><circle class="k2" cx="588" cy="1147" r="15.5"/></g>
<g id="n272"><circle class="k7" cx="332" cy="1071" r="15.5"/></g>
<g id="n273"><circle class="k7" cx="429" cy="1059" r="15.5"/></g>
<g id="n274"><circle class="k0" cx="248" cy="1081" r="10"/></g>
<g id="n275"><circle class="k0" cx="295" cy="1120" r="15.5"/></g>
<g id="n276"><circle class="k13" cx="392" cy="1107" r="11.5"/></g>
<g id="n277"><circle class="k16" cx="469" cy="1120" r="13.5"/></g>
<g id="n278"><circle class="k2" cx="340" cy="1151" r="15.5"/></g>
<g id="n279"><circle class="k13" cx="429" cy="1163" r="15.5"/></g>
<g id="n280"><circle class="k13" cx="515" cy="1167" r="13.5"/></g>
<g id="n281"><circle class="k0" cx="349" cy="1202" r="10"/></g>
<g id="n282"><circle class="k12" cx="404" cy="1232" r="15.5"/></g>
<g id="n283"><circle class="k12" cx="444" cy="1226" r="15.5"/></g>
<g id="n284"><circle class="k16" cx="516" cy="1241" r="13.5"/></g>
<g id="n285"><circle class="k16" cx="550" cy="1223" r="13.5"/></g>
<g id="n286"><circle class="k16" cx="467" cy="1288" r="15.5"/></g>
<g id="n287"><circle class="k7" cx="533" cy="1308" r="11.5"/></g>
<g id="n288"><circle class="k12" cx="586" cy="1337" r="15.5"/></g>
<g id="n289"><circle class="k15" cx="959" cy="999" r="13.5"/></g>
<g id="n290"><circle class="k15" cx="939" cy="1034" r="13.5"/></g>
<g id="n291"><circle class="k10" cx="1019" cy="1040" r="13.5"/></g>
<g id="n292"><circle class="k13" cx="1052" cy="1065" r="13.5"/></g>
<g id="n293"><circle class="k1" cx="631" cy="1043" r="15.5"/></g>
<g id="n294"><circle class="k12" cx="698" cy="1037" r="10"/></g>
<g id="n295"><circle class="k0" cx="744" cy="1050" r="15.5"/></g>
<g id="n296"><circle class="k0" cx="811" cy="1042" r="10"/></g>
<g id="n297"><circle class="k16" cx="868" cy="1043" r="11.5"/></g>
<g id="n298"><circle class="k12" cx="729" cy="1105" r="15.5"/></g>
<g id="n299"><circle class="k15" cx="682" cy="1125" r="11.5"/></g>
<g id="n300"><circle class="k7" cx="733" cy="1143" r="13.5"/></g>
<g id="n301"><circle class="k0" cx="805" cy="1112" r="10"/></g>
<g id="n302"><circle class="k8" cx="864" cy="1105" r="11.5"/></g>
<g id="n303"><circle class="k9" cx="929" cy="1098" r="13.5"/></g>
<g id="n304"><circle class="k16" cx="999" cy="1106" r="11.5"/></g>
<g id="n305"><circle class="k13" cx="679" cy="1186" r="11.5"/></g>
<g id="n306"><circle class="k13" cx="713" cy="1208" r="17.5"/></g>
<g id="n307"><circle class="k0" cx="649" cy="1222" r="11.5"/></g>
<g id="n308"><circle class="k0" cx="607" cy="1248" r="11.5"/></g>
<g id="n309"><circle class="k10" cx="808" cy="1182" r="13.5"/></g>
<g id="n310"><circle class="k11" cx="877" cy="1168" r="13.5"/></g>
<g id="n311"><circle class="k0" cx="949" cy="1156" r="10"/></g>
<g id="n312"><circle class="k15" cx="1023" cy="1165" r="15.5"/></g>
<g id="n313"><circle class="k2" cx="1021" cy="1204" r="11.5"/></g>
<g id="n314"><circle class="k13" cx="795" cy="1241" r="11.5"/></g>
<g id="n315"><circle class="k0" cx="853" cy="1252" r="10"/></g>
<g id="n316"><circle class="k4" cx="932" cy="1219" r="11.5"/></g>
<g id="n317"><circle class="k8" cx="911" cy="1250" r="11.5"/></g>
<g id="n318"><circle class="k6" cx="993" cy="1261" r="11.5"/></g>
<g id="n319"><circle class="k13" cx="706" cy="1269" r="17.5"/></g>
<g id="n320"><circle class="k13" cx="659" cy="1290" r="17.5"/></g>
<g id="n321"><circle class="k12" cx="713" cy="1329" r="11.5"/></g>
<g id="n322"><circle class="k12" cx="751" cy="1303" r="11.5"/></g>
<g id="n323"><circle class="k12" cx="671" cy="1357" r="11.5"/></g>
<g id="n324"><circle class="k12" cx="768" cy="1345" r="11.5"/></g>
<g id="n325"><circle class="k13" cx="821" cy="1349" r="11.5"/></g>
<g id="n326"><circle class="k13" cx="855" cy="1324" r="11.5"/></g>
<g id="n327"><circle class="k6" cx="771" cy="1398" r="15.5"/></g>
<g id="n328"><circle class="k1" cx="907" cy="1367" r="17.5"/></g>
<g id="n329"><circle class="k1" cx="949" cy="1365" r="17.5"/></g>
<g id="n330"><circle class="k0" cx="948" cy="1305" r="10"/></g>
<g id="n331"><circle class="k16" cx="1023" cy="1340" r="15.5"/></g>
<g id="n332"><circle class="k16" cx="1244" cy="983" r="13.5"/></g>
<g id="n333"><circle class="k9" cx="1323" cy="983" r="17.5"/></g>
<g id="n334"><circle class="k15" cx="1398" cy="982" r="15.5"/></g>
<g id="n335"><circle class="k11" cx="1130" cy="987" r="11.5"/></g>
<g id="n336"><circle class="k10" cx="1103" cy="1019" r="10"/></g>
<g id="n337"><circle class="k12" cx="1176" cy="1025" r="15.5"/></g>
<g id="n338"><circle class="k0" cx="1284" cy="1035" r="10"/></g>
<g id="n339"><circle class="k16" cx="1366" cy="1037" r="11.5"/></g>
<g id="n340"><circle class="k12" cx="1186" cy="1086" r="11.5"/></g>
<g id="n341"><circle class="k12" cx="1222" cy="1066" r="11.5"/></g>
<g id="n342"><circle class="k5" cx="1340" cy="1085" r="13.5"/></g>
<g id="n343"><circle class="k3" cx="1264" cy="1115" r="11.5"/></g>
<g id="n344"><circle class="k16" cx="1316" cy="1139" r="13.5"/></g>
<g id="n345"><circle class="k12" cx="1089" cy="1135" r="13.5"/></g>
<g id="n346"><circle class="k3" cx="1138" cy="1127" r="13.5"/></g>
<g id="n347"><circle class="k3" cx="1122" cy="1166" r="13.5"/></g>
<g id="n348"><circle class="k11" cx="1210" cy="1153" r="17.5"/></g>
<g id="n349"><circle class="k0" cx="1267" cy="1189" r="10"/></g>
<g id="n350"><circle class="k4" cx="1188" cy="1213" r="15.5"/></g>
<g id="n351"><circle class="k16" cx="1197" cy="1252" r="11.5"/></g>
<g id="n352"><circle class="k2" cx="1155" cy="1265" r="11.5"/></g>
<g id="n353"><circle class="k2" cx="1090" cy="1230" r="11.5"/></g>
<g id="n354"><circle class="k12" cx="1050" cy="1279" r="11.5"/></g>
<g id="n355"><circle class="k0" cx="1100" cy="1309" r="10"/></g>
</g>
<g id="legend">
<text class="ttl" x="448" y="1477">Perception</text>
<rect x="448" y="1496" width="720" height="26" fill="url(#grad)"/>
<g stroke="#666" stroke-width="2" fill="none">
<line x1="467" y1="1515" x2="1150" y2="1515"/>
<line x1="467" y1="1515" x2="467" y2="1523"/>
<line x1="638" y1="1515" x2="638" y2="1523"/>
<line x1="808" y1="1515" x2="808" y2="1523"/>
<line x1="979" y1="1515" x2="979" y2="1523"/>
<line x1="1150" y1="1515" x2="1150" y2="1523"/>
</g>
<text class="lab" x="467" y="1554">0</text>
<text class="lab" x="638" y="1554">25</text>
<text class="lab" x="808" y="1554">50</text>
<text class="lab" x="979" y="1554">75</text>
<text class="lab" x="1150" y="1554">100</text>
</g>
</svg>
